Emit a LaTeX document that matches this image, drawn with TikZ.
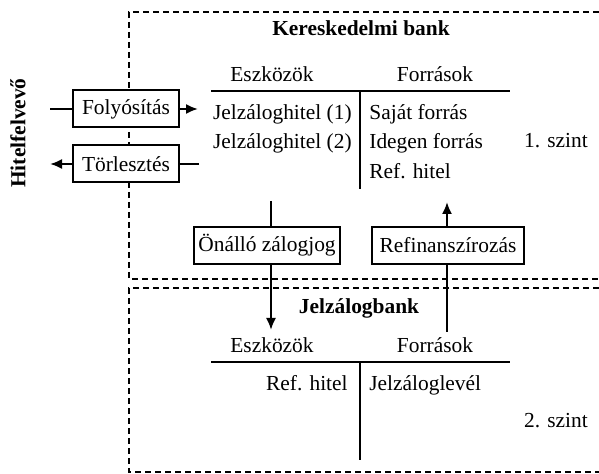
\documentclass[tikz,border=0pt]{standalone}
\usepackage{fontspec}
\setmainfont{Liberation Serif}
\usepackage{tikz}
\usetikzlibrary{arrows.meta, positioning, calc}

\begin{document}
\begin{tikzpicture}[
    x=0.5pt, y=-0.5pt,
    font=\fontsize{10.7pt}{13pt}\selectfont,
    arrow/.style={-{Latex[length=6pt, width=5pt]}, line width=1pt},
    plain/.style={line width=1pt},
    levelbox/.style={dash pattern=on 3pt off 2pt, line width=1.1pt},
    flowbox/.style={draw, fill=white, line width=1pt, inner sep=0pt, minimum height=18.5pt},
    txt/.style={inner sep=0pt}
]
    \useasboundingbox (0,0) rectangle (599,474);

    % Level frames
    \draw[levelbox] (599,12) -- (129,12) -- (129,279) -- (599,279);
    \draw[levelbox] (599,288) -- (129,288) -- (129,472) -- (599,472);

    % Kereskedelmi bank
    \node[txt, anchor=base, font=\fontsize{10.7pt}{13pt}\selectfont\bfseries] (kbank) at (361,36) {Kereskedelmi bank};
    \node[txt, anchor=base] (eszk1) at (272,82) {Eszközök};
    \node[txt, anchor=base] (forr1) at (435,82) {Források};
    \coordinate (t1l) at (211,91);
    \coordinate (t1r) at (510,91);
    \coordinate (t1top) at (360,91);
    \coordinate (t1bot) at (360,189);
    \draw[plain] (t1l) -- (t1r);
    \draw[plain] (t1top) -- (t1bot);
    \node[txt, anchor=base east] (jh1) at (352,120) {Jelzáloghitel (1)};
    \node[txt, anchor=base east] (jh2) at (352,149) {Jelzáloghitel (2)};
    \node[txt, anchor=base west] (sajat) at (369,120) {Saját forrás};
    \node[txt, anchor=base west] (idegen) at (369,149) {Idegen forrás};
    \node[txt, anchor=base west] (refh1) at (369,179) {Ref. hitel};
    \node[txt, anchor=base] (szint1) at (556,148) {1. szint};

    % Hitelfelvevo
    \node[txt, rotate=90, font=\fontsize{10.7pt}{13pt}\selectfont\bfseries] (hitel) at (18,133) {Hitelfelvevő};
    \node[flowbox, minimum width=53pt] (foly) at (126,109) {Folyósítás};
    \node[flowbox, minimum width=53pt] (torl) at (126,164) {Törlesztés};
    \coordinate (folyin) at (50,109);
    \coordinate (folyout) at (198,109);
    \coordinate (torlin) at (199,164);
    \coordinate (torlout) at (50,164);
    \draw[plain] (folyin) -- (foly);
    \draw[arrow] (foly) -- (folyout);
    \draw[plain] (torlin) -- (torl);
    \draw[arrow] (torl) -- (torlout);

    % Connections between levels
    \node[flowbox, minimum width=73pt] (onallo) at (267,245.5) {Önálló zálogjog};
    \node[flowbox, minimum width=76pt] (refin) at (448,245.5) {Refinanszírozás};
    \coordinate (onin) at (271,201);
    \coordinate (onout) at (271,330);
    \coordinate (refin_in) at (447,332);
    \coordinate (refin_out) at (447,202);
    \draw[plain] (onin) -- (onin |- onallo.north);
    \draw[arrow] (onin |- onallo.south) -- (onout);
    \draw[plain] (refin_in) -- (refin_in |- refin.south);
    \draw[arrow] (refin_in |- refin.north) -- (refin_out);

    % Jelzalogbank
    \node[txt, anchor=base, font=\fontsize{10.7pt}{13pt}\selectfont\bfseries] (jbank) at (359,314) {Jelzálogbank};
    \node[txt, anchor=base] (eszk2) at (272,353) {Eszközök};
    \node[txt, anchor=base] (forr2) at (435,353) {Források};
    \coordinate (t2l) at (211,362);
    \coordinate (t2r) at (510,362);
    \coordinate (t2top) at (360,362);
    \coordinate (t2bot) at (360,460);
    \draw[plain] (t2l) -- (t2r);
    \draw[plain] (t2top) -- (t2bot);
    \node[txt, anchor=base east] (refh2) at (348,391) {Ref. hitel};
    \node[txt, anchor=base west] (jlevel) at (369,391) {Jelzáloglevél};
    \node[txt, anchor=base] (szint2) at (556,428) {2. szint};

\end{tikzpicture}
\end{document}
